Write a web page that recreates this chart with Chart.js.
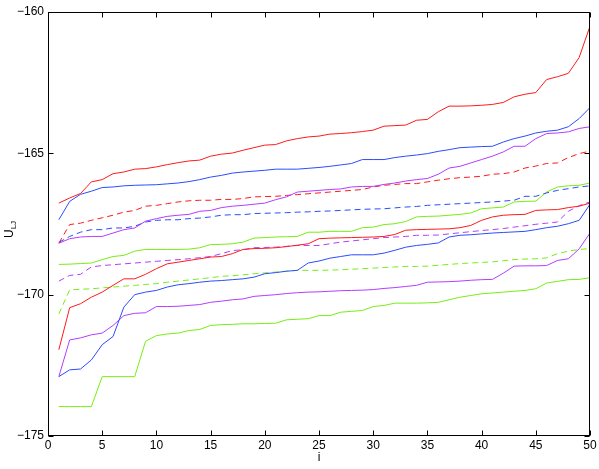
<!DOCTYPE html>
<html>
<head>
<meta charset="utf-8">
<script src="https://cdn.jsdelivr.net/npm/chart.js@4/dist/chart.umd.min.js"></script>
<style>
  body { margin:0; background:#fff; }
  #wrap { width:599px; height:469px; }
</style>
</head>
<body>
<div id="wrap"><canvas id="uljChart" width="599" height="469"></canvas></div>
<script>
// sample index i
const steps = [1,2,3,4,5,6,7,8,9,10,11,12,13,14,15,16,17,18,19,20,21,22,23,24,25,
               26,27,28,29,30,31,32,33,34,35,36,37,38,39,40,41,42,43,44,45,46,47,48,49,50];

const xTicks = [0,5,10,15,20,25,30,35,40,45,50];
const yTicks = [-175,-170,-165,-160];

const redTop = [-166.76,-166.58,-166.42,-166.01,-165.93,-165.72,-165.66,-165.56,-165.54,-165.48,
  -165.40,-165.33,-165.27,-165.24,-165.10,-165.03,-164.99,-164.89,-164.80,-164.71,
  -164.69,-164.56,-164.48,-164.42,-164.39,-164.32,-164.30,-164.27,-164.23,-164.18,
  -164.04,-164.02,-164.00,-163.83,-163.80,-163.53,-163.33,-163.33,-163.32,-163.30,
  -163.27,-163.20,-163.00,-162.91,-162.85,-162.39,-162.29,-162.17,-161.61,-160.50];

const blueTop = [-167.35,-166.70,-166.45,-166.34,-166.21,-166.19,-166.15,-166.13,-166.12,-166.11,
  -166.08,-166.05,-166.00,-165.93,-165.84,-165.78,-165.70,-165.66,-165.63,-165.60,
  -165.56,-165.56,-165.56,-165.53,-165.50,-165.46,-165.41,-165.36,-165.22,-165.22,
  -165.22,-165.15,-165.10,-165.06,-165.01,-164.93,-164.87,-164.80,-164.78,-164.76,
  -164.75,-164.60,-164.48,-164.39,-164.28,-164.22,-164.18,-164.06,-163.77,-163.38];

const magentaTop = [-168.18,-168.02,-167.96,-167.94,-167.94,-167.82,-167.70,-167.64,-167.40,-167.31,
  -167.23,-167.19,-167.16,-167.05,-167.02,-166.92,-166.87,-166.84,-166.80,-166.76,
  -166.64,-166.54,-166.37,-166.34,-166.31,-166.28,-166.26,-166.19,-166.17,-166.17,
  -166.10,-166.05,-165.98,-165.93,-165.89,-165.74,-165.52,-165.46,-165.34,-165.22,
  -165.10,-164.95,-164.75,-164.75,-164.48,-164.30,-164.28,-164.24,-164.12,-164.06];

const redDash = [-168.18,-167.52,-167.47,-167.37,-167.28,-167.19,-167.08,-167.02,-166.87,-166.84,
  -166.78,-166.72,-166.68,-166.66,-166.66,-166.63,-166.63,-166.60,-166.54,-166.53,
  -166.52,-166.49,-166.46,-166.43,-166.40,-166.37,-166.34,-166.31,-166.28,-166.19,
  -166.13,-166.10,-166.07,-166.07,-166.01,-165.95,-165.90,-165.86,-165.84,-165.81,
  -165.74,-165.72,-165.66,-165.52,-165.45,-165.36,-165.34,-165.15,-165.01,-164.92];

const blueDash = [-168.15,-167.94,-167.79,-167.70,-167.70,-167.64,-167.64,-167.58,-167.43,-167.37,
  -167.35,-167.35,-167.31,-167.29,-167.25,-167.19,-167.17,-167.17,-167.13,-167.12,
  -167.11,-167.10,-167.08,-167.07,-167.05,-167.04,-167.02,-167.00,-166.98,-166.97,
  -166.96,-166.93,-166.90,-166.88,-166.84,-166.82,-166.80,-166.78,-166.76,-166.74,
  -166.72,-166.69,-166.66,-166.52,-166.52,-166.40,-166.31,-166.25,-166.19,-166.15];

const greenTop = [-168.93,-168.92,-168.90,-168.88,-168.76,-168.65,-168.61,-168.46,-168.40,-168.40,
  -168.40,-168.40,-168.39,-168.34,-168.23,-168.22,-168.20,-168.14,-168.00,-167.98,
  -167.96,-167.95,-167.94,-167.79,-167.79,-167.76,-167.76,-167.76,-167.63,-167.61,
  -167.52,-167.49,-167.41,-167.25,-167.23,-167.22,-167.19,-167.16,-167.11,-166.96,
  -166.93,-166.90,-166.72,-166.70,-166.69,-166.37,-166.19,-166.15,-166.13,-166.05];

const redLow = [-171.95,-170.46,-170.32,-170.09,-169.91,-169.67,-169.44,-169.44,-169.28,-169.08,
  -168.91,-168.85,-168.79,-168.73,-168.67,-168.65,-168.55,-168.40,-168.37,-168.36,
  -168.34,-168.30,-168.25,-168.20,-168.02,-168.00,-167.99,-167.98,-167.97,-167.96,
  -167.94,-167.87,-167.72,-167.70,-167.69,-167.68,-167.67,-167.63,-167.55,-167.37,
  -167.25,-167.19,-167.17,-167.16,-167.02,-167.00,-166.99,-166.92,-166.87,-166.76];

const magentaDash = [-169.52,-169.32,-169.28,-169.02,-168.97,-168.94,-168.91,-168.88,-168.85,-168.82,
  -168.79,-168.76,-168.73,-168.69,-168.65,-168.55,-168.44,-168.41,-168.34,-168.33,
  -168.32,-168.29,-168.26,-168.26,-168.26,-168.20,-168.14,-168.10,-168.06,-168.02,
  -167.98,-167.96,-167.94,-167.90,-167.90,-167.89,-167.85,-167.81,-167.77,-167.73,
  -167.70,-167.66,-167.61,-167.56,-167.51,-167.47,-167.43,-167.05,-166.85,-166.72];

const blueLow = [-172.90,-172.66,-172.63,-172.31,-171.77,-171.48,-170.44,-170.00,-169.91,-169.85,
  -169.73,-169.65,-169.61,-169.56,-169.52,-169.50,-169.47,-169.44,-169.38,-169.26,
  -169.22,-169.17,-169.14,-168.88,-168.81,-168.71,-168.65,-168.59,-168.59,-168.59,
  -168.53,-168.43,-168.32,-168.26,-168.22,-168.17,-167.96,-167.90,-167.88,-167.85,
  -167.82,-167.80,-167.78,-167.76,-167.70,-167.63,-167.58,-167.49,-167.37,-166.80];

const greenDash = [-170.68,-169.83,-169.81,-169.79,-169.76,-169.73,-169.70,-169.67,-169.64,-169.61,
  -169.56,-169.52,-169.48,-169.44,-169.40,-169.35,-169.33,-169.30,-169.26,-169.23,
  -169.20,-169.17,-169.14,-169.14,-169.14,-169.13,-169.12,-169.10,-169.08,-169.06,
  -169.04,-169.02,-169.00,-169.00,-168.99,-168.96,-168.93,-168.90,-168.88,-168.86,
  -168.84,-168.80,-168.76,-168.74,-168.73,-168.70,-168.55,-168.46,-168.40,-168.37];

const magentaLow = [-172.90,-171.60,-171.53,-171.42,-171.36,-171.09,-170.74,-170.66,-170.64,-170.42,
  -170.42,-170.41,-170.38,-170.35,-170.27,-170.23,-170.18,-170.15,-170.06,-170.03,
  -170.00,-169.96,-169.93,-169.91,-169.90,-169.88,-169.86,-169.85,-169.84,-169.82,
  -169.78,-169.75,-169.71,-169.67,-169.56,-169.55,-169.54,-169.52,-169.49,-169.47,
  -169.46,-169.24,-168.99,-168.98,-168.98,-168.97,-168.79,-168.73,-168.38,-167.82];

const greenLow = [-173.96,-173.96,-173.96,-173.96,-172.90,-172.90,-172.90,-172.90,-171.65,-171.45,
  -171.39,-171.36,-171.27,-171.23,-171.09,-171.06,-171.05,-171.03,-171.03,-171.02,
  -171.01,-170.89,-170.87,-170.85,-170.74,-170.74,-170.62,-170.59,-170.56,-170.42,
  -170.38,-170.30,-170.30,-170.30,-170.29,-170.27,-170.18,-170.09,-170.03,-169.97,
  -169.94,-169.91,-169.88,-169.85,-169.79,-169.59,-169.53,-169.47,-169.46,-169.40];

const RED = '#ff1a1a', BLUE = '#2a4cff', MAG = '#b43cff', GRN = '#77ee11';

function series(vals, color, dashed){
    return {
        data: steps.map((s,k)=>({x:s, y:vals[k]})),
        borderColor: color,
        backgroundColor: color,
        borderWidth: 1,
        borderDash: dashed ? [6,4] : [],
        pointRadius: 0,
        tension: 0,
        fill: false
    };
}

const minus = v => String(v).replace('-', '\u2212');

// box round the plot, ticks pointing in, and the U_LJ label with its subscript
const frame = {
    id:'frame',
    afterDraw(chart){
        const {ctx, chartArea:a, scales:{x, y}} = chart;
        const L = Math.round(a.left)+0.5, R = Math.round(a.right)-0.5;
        const T = Math.round(a.top)+0.5, B = Math.round(a.bottom)-0.5;
        ctx.save();
        ctx.strokeStyle = '#000';
        ctx.lineWidth = 1;
        ctx.setLineDash([]);
        ctx.strokeRect(L, T, R-L, B-T);
        ctx.beginPath();
        xTicks.forEach(v=>{
            const px = Math.round(x.getPixelForValue(v))+0.5;
            ctx.moveTo(px, B); ctx.lineTo(px, B-5);
            ctx.moveTo(px, T); ctx.lineTo(px, T+5);
        });
        yTicks.forEach(v=>{
            const py = Math.round(y.getPixelForValue(v))+0.5;
            ctx.moveTo(L, py); ctx.lineTo(L+5, py);
            ctx.moveTo(R, py); ctx.lineTo(R-5, py);
        });
        ctx.stroke();

        ctx.fillStyle = '#000';
        ctx.translate(13, 238);
        ctx.rotate(-Math.PI/2);
        ctx.textBaseline = 'alphabetic';
        ctx.font = '12px "Liberation Sans", Arial, sans-serif';
        ctx.fillText('U', 0, 0);
        const w = ctx.measureText('U').width;
        ctx.font = '8px "Liberation Sans", Arial, sans-serif';
        ctx.fillText('LJ', w, 3);
        ctx.restore();
    }
};

Chart.defaults.font.family = '"Liberation Sans", Arial, sans-serif';
Chart.defaults.font.size = 12;
Chart.defaults.color = '#000';

new Chart(document.getElementById('uljChart'), {
    type:'line',
    data:{
        datasets:[
            series(redTop, RED, false),
            series(blueTop, BLUE, false),
            series(magentaTop, MAG, false),
            series(redDash, RED, true),
            series(blueDash, BLUE, true),
            series(greenTop, GRN, false),
            series(redLow, RED, false),
            series(magentaDash, MAG, true),
            series(blueLow, BLUE, false),
            series(greenDash, GRN, true),
            series(magentaLow, MAG, false),
            series(greenLow, GRN, false)
        ]
    },
    options:{
        responsive:false,
        animation:false,
        devicePixelRatio:1,
        layout:{ padding:{ top:12, right:9, left:0, bottom:0 } },
        plugins:{ legend:{display:false}, tooltip:{enabled:false} },
        scales:{
            x:{
                type:'linear', min:0, max:50,
                afterBuildTicks: s => { s.ticks = xTicks.map(v=>({value:v})); },
                grid:{ display:false, drawTicks:false },
                border:{ display:false },
                ticks:{ padding:2, maxRotation:0, autoSkip:false, callback: minus },
                title:{ display:true, text:'i', padding:{top:0, bottom:4} },
                afterFit: s => { s.height = 33; }
            },
            y:{
                type:'linear', min:-175, max:-160,
                afterBuildTicks: s => { s.ticks = yTicks.map(v=>({value:v})); },
                grid:{ display:false, drawTicks:false },
                border:{ display:false },
                ticks:{ padding:4, autoSkip:false, callback: minus },
                afterFit: s => { s.width = 48; }
            }
        }
    },
    plugins:[frame]
});
</script>
</body>
</html>
